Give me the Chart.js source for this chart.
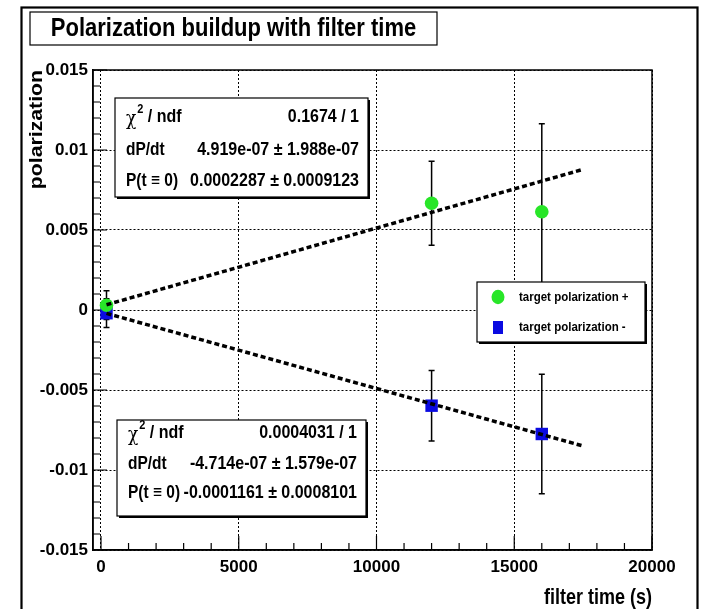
<!DOCTYPE html>
<html>
<head>
<meta charset="utf-8">
<script src="https://cdn.jsdelivr.net/npm/chart.js@4.4.1/dist/chart.umd.min.js"></script>
<style>
html,body{margin:0;padding:0;background:#fff;}
canvas{display:block;}
</style>
</head>
<body>
<canvas id="c" width="718" height="609"></canvas>
<script>
// ---------- data ----------
const chartTitle = "Polarization buildup with filter time";
const xAxisTitle = "filter time (s)";
const yAxisTitle = "polarization";
const xTickValues = [0, 5000, 10000, 15000, 20000];
const yTickValues = [-0.015, -0.01, -0.005, 0, 0.005, 0.01, 0.015];
const yTickLabels = ["-0.015", "-0.01", "-0.005", "0", "0.005", "0.01", "0.015"];
const filterTimes = [200, 12000, 16000];
const polPlus = [0.0003, 0.00667, 0.00614];
const polPlusErr = [0.0009, 0.00262, 0.0055];
const polMinus = [-0.0002, -0.00598, -0.00775];
const polMinusErr = [0.0009, 0.0022, 0.00373];
const fitTimes = [200, 17500];
const fitPlusValues = [0.00033, 0.00879];
const fitMinusValues = [-0.00021, -0.0085];
const seriesNames = ["target polarization +", "target polarization -"];
const statsPlus = [["χ2 / ndf", "0.1674 / 1"], ["dP/dt", "4.919e-07 ± 1.988e-07"], ["P(t ≡ 0)", "0.0002287 ± 0.0009123"]];
const statsMinus = [["χ2 / ndf", "0.0004031 / 1"], ["dP/dt", "-4.714e-07 ± 1.579e-07"], ["P(t ≡ 0)", "-0.0001161 ± 0.0008101"]];

const GREEN = "rgb(40,230,40)";
const BLUE = "rgb(10,10,225)";
const FONT = "'Liberation Sans', Arial, sans-serif";
const VS = 1.18;

function toPts(xs, ys){ return xs.map((x,i)=>({x:x, y:ys[i]})); }

function vtext(ctx, str, x, y, align, size, sy){
  ctx.save();
  ctx.translate(x, y);
  ctx.scale(1, sy || VS);
  ctx.font = "bold " + size + "px " + FONT;
  ctx.textAlign = align;
  ctx.textBaseline = "middle";
  ctx.fillStyle = "#000";
  ctx.fillText(str, 0, 0);
  ctx.restore();
}

function drawBox(ctx, l, t, r, b, shadow){
  ctx.save();
  if (shadow){
    ctx.fillStyle = "#000";
    ctx.fillRect(l + shadow, t + shadow, r - l, b - t);
  }
  ctx.fillStyle = "#fff";
  ctx.fillRect(l, t, r - l, b - t);
  ctx.strokeStyle = "#000";
  ctx.lineWidth = 1.2;
  ctx.strokeRect(l, t, r - l, b - t);
  ctx.restore();
}

function drawStatLabel(ctx, label, x, y){
  if (label.startsWith("χ2")){
    ctx.save();
    ctx.translate(x, y); ctx.scale(1, VS);
    ctx.fillStyle = "#000"; ctx.textBaseline = "middle"; ctx.textAlign = "left";
    ctx.font = "17px 'DejaVu Serif', serif";
    ctx.fillText("χ", 0, 2);
    let w = ctx.measureText("χ").width;
    ctx.font = "bold 11px " + FONT;
    ctx.fillText("2", w + 1, -6);
    let w2 = ctx.measureText("2").width;
    ctx.font = "bold 16px " + FONT;
    ctx.fillText(" / ndf", w + w2 + 1, 0);
    ctx.restore();
  } else {
    vtext(ctx, label, x, y, "left", 15.5);
  }
}

function drawStats(ctx, rows, l, t, r, b, ys){
  drawBox(ctx, l, t, r, b, 2);
  rows.forEach((row, i) => {
    drawStatLabel(ctx, row[0], l + 11, ys[i]);
    vtext(ctx, row[1], r - 9, ys[i], "right", 16);
  });
}

const overlay = {
  id: "overlay",
  beforeDatasetsDraw(chart){
    const ctx = chart.ctx;
    const xs = chart.scales.x, ys = chart.scales.y;
    const area = chart.chartArea;
    // minor + major ticks (inward)
    ctx.save();
    ctx.strokeStyle = "#000"; ctx.lineWidth = 1.2;
    ctx.beginPath();
    for (let v = 0; v <= 20000; v += 1000){
      const px = xs.getPixelForValue(v);
      const len = (v % 5000 === 0) ? 14 : 7;
      ctx.moveTo(px, area.bottom); ctx.lineTo(px, area.bottom - len);
    }
    for (let k = -15; k <= 15; k++){
      const py = ys.getPixelForValue(k / 1000);
      const len = (k % 5 === 0) ? 14 : 7;
      ctx.moveTo(area.left, py); ctx.lineTo(area.left + len, py);
    }
    ctx.stroke();
    ctx.restore();
    // error bars
    const bars = [[polPlus, polPlusErr], [polMinus, polMinusErr]];
    ctx.save();
    ctx.strokeStyle = "#000"; ctx.lineWidth = 1.5;
    bars.forEach(([vals, errs]) => {
      vals.forEach((v, i) => {
        const px = xs.getPixelForValue(filterTimes[i]);
        const top = ys.getPixelForValue(v + errs[i]);
        const bot = ys.getPixelForValue(v - errs[i]);
        ctx.beginPath();
        ctx.moveTo(px, top); ctx.lineTo(px, bot);
        ctx.moveTo(px - 3, top); ctx.lineTo(px + 3, top);
        ctx.moveTo(px - 3, bot); ctx.lineTo(px + 3, bot);
        ctx.stroke();
      });
    });
    ctx.restore();
  },
  afterDraw(chart){
    const ctx = chart.ctx;
    const area = chart.chartArea;
    // frame
    ctx.save();
    ctx.strokeStyle = "#000"; ctx.lineWidth = 1.5;
    ctx.strokeRect(area.left, area.top, area.right - area.left, area.bottom - area.top);
    // outer pad frame
    ctx.lineWidth = 2.2;
    ctx.strokeRect(21.5, 7.5, 676, 620);
    ctx.restore();
    // title box
    drawBox(ctx, 30, 12, 437, 45, 0);
    vtext(ctx, chartTitle, 233.5, 29, "center", 22);
    // axis titles
    ctx.save();
    ctx.translate(37, 70);
    ctx.rotate(-Math.PI / 2);
    ctx.scale(VS, 1);
    ctx.font = "bold 18px " + FONT;
    ctx.textAlign = "right"; ctx.textBaseline = "middle"; ctx.fillStyle = "#000";
    ctx.fillText(yAxisTitle, 0, 0);
    ctx.restore();
    vtext(ctx, xAxisTitle, 652, 598, "right", 18);
    // stats boxes
    drawStats(ctx, statsPlus, 115, 98, 368, 197, [117, 150, 181]);
    drawStats(ctx, statsMinus, 117, 420, 366, 516, [433, 464, 493]);
    // legend
    drawBox(ctx, 477, 282, 645, 342, 2);
    ctx.save();
    ctx.fillStyle = GREEN;
    ctx.beginPath(); ctx.ellipse(498, 297, 6.5, 7.2, 0, 0, Math.PI * 2); ctx.fill();
    ctx.fillStyle = BLUE;
    ctx.fillRect(493, 321, 10, 13);
    ctx.restore();
    vtext(ctx, seriesNames[0], 519, 297, "left", 11.5);
    vtext(ctx, seriesNames[1], 519, 327, "left", 11.5);
  }
};

const tickFont = { family: FONT, size: 17, weight: "bold" };

new Chart(document.getElementById("c"), {
  type: "scatter",
  data: {
    datasets: [
      { label: "fit +", data: toPts(fitTimes, fitPlusValues), showLine: true, borderColor: "#000",
        borderWidth: 3.5, borderDash: [5, 3], pointRadius: 0, fill: false },
      { label: "fit -", data: toPts(fitTimes, fitMinusValues), showLine: true, borderColor: "#000",
        borderWidth: 3.5, borderDash: [5, 3], pointRadius: 0, fill: false },
      { label: seriesNames[0], data: toPts(filterTimes, polPlus), pointStyle: "circle",
        backgroundColor: GREEN, borderColor: GREEN, pointRadius: 6.8, borderWidth: 0 },
      { label: seriesNames[1], data: toPts(filterTimes, polMinus), pointStyle: "rect",
        backgroundColor: BLUE, borderColor: BLUE, pointRadius: 8.8, borderWidth: 0 }
    ]
  },
  options: {
    responsive: false,
    animation: false,
    devicePixelRatio: 1,
    layout: { padding: { left: 0, top: 70, right: 66, bottom: 0 } },
    plugins: { legend: { display: false }, tooltip: { enabled: false }, title: { display: false } },
    scales: {
      x: {
        type: "linear", min: -290, max: 20000,
        afterBuildTicks: s => { s.ticks = xTickValues.map(v => ({ value: v })); },
        afterFit: s => { s.height = 59; },
        ticks: { font: tickFont, color: "#000", padding: 7, maxRotation: 0, autoSkip: false,
                 callback: v => String(v) },
        grid: { color: "#000", lineWidth: 1, drawTicks: false },
        border: { display: true, color: "#000", width: 1.5, dash: [2, 2] }
      },
      y: {
        type: "linear", min: -0.015, max: 0.015,
        afterBuildTicks: s => { s.ticks = yTickValues.map(v => ({ value: v })); },
        afterFit: s => { s.width = 93; },
        ticks: { font: tickFont, color: "#000", padding: 5, autoSkip: false,
                 callback: (v) => { const i = yTickValues.findIndex(t => Math.abs(t - v) < 1e-9); return i >= 0 ? yTickLabels[i] : ""; } },
        grid: { color: "#000", lineWidth: 1, drawTicks: false },
        border: { display: true, color: "#000", width: 1.5, dash: [2, 2] }
      }
    }
  },
  plugins: [overlay]
});
</script>
</body>
</html>
